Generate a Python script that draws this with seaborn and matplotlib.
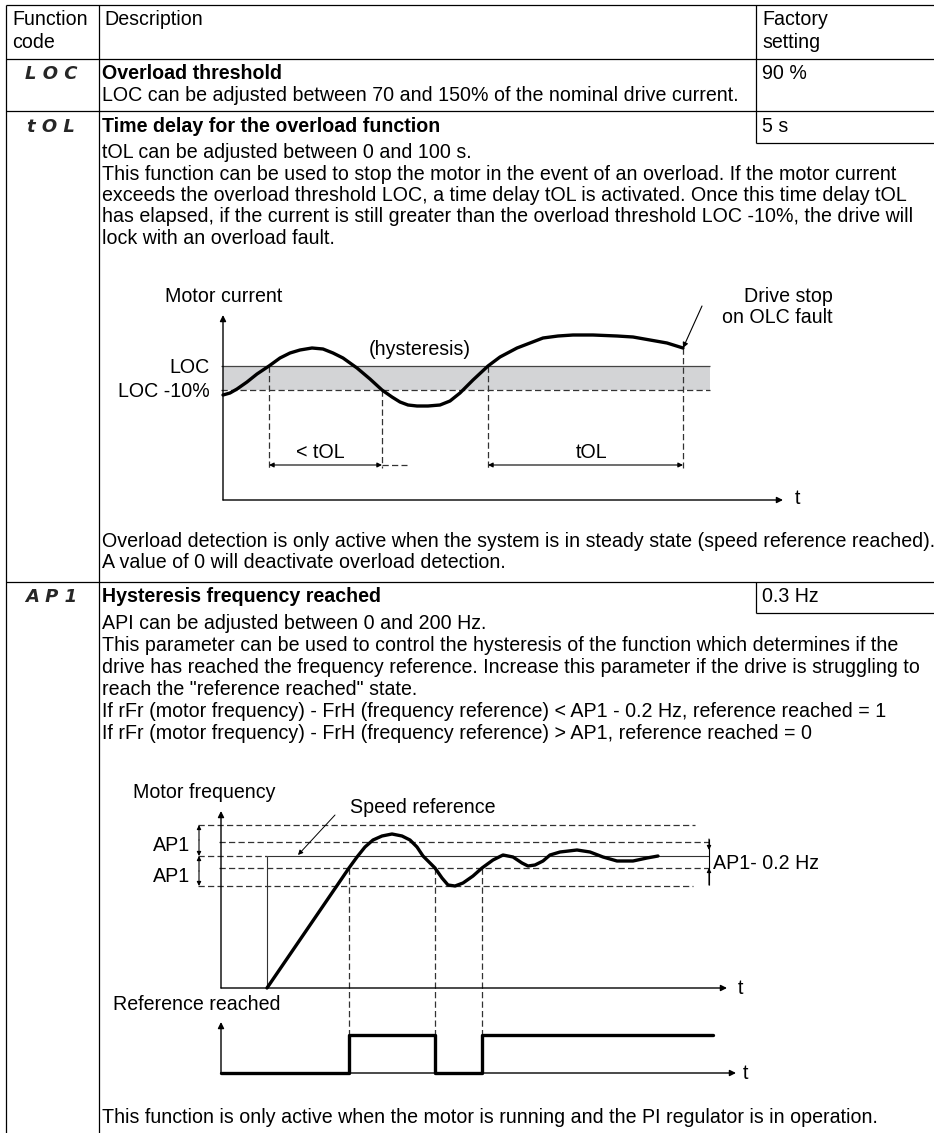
import numpy as np
import pandas as pd
import matplotlib.pyplot as plt
import seaborn as sns

W, H = 934, 1133

# ---- table content ----
header_left = ["Function", "code"]
header_mid = "Description"
header_right = ["Factory", "setting"]
codes = ["L O C", "t O L", "A P 1"]
titles = ["Overload threshold", "Time delay for the overload function", "Hysteresis frequency reached"]
factory = ["90 %", "5 s", "0.3 Hz"]
loc_lines = ["LOC can be adjusted between 70 and 150% of the nominal drive current."]
tol_lines = [
    "tOL can be adjusted between 0 and 100 s.",
    "This function can be used to stop the motor in the event of an overload. If the motor current",
    "exceeds the overload threshold LOC, a time delay tOL is activated. Once this time delay tOL",
    "has elapsed, if the current is still greater than the overload threshold LOC -10%, the drive will",
    "lock with an overload fault.",
]
note_lines = [
    "Overload detection is only active when the system is in steady state (speed reference reached).",
    "A value of 0 will deactivate overload detection.",
]
api_lines = [
    "API can be adjusted between 0 and 200 Hz.",
    "This parameter can be used to control the hysteresis of the function which determines if the",
    "drive has reached the frequency reference. Increase this parameter if the drive is struggling to",
    'reach the "reference reached" state.',
    "If rFr (motor frequency) - FrH (frequency reference) < AP1 - 0.2 Hz, reference reached = 1",
    "If rFr (motor frequency) - FrH (frequency reference) > AP1, reference reached = 0",
]
final_line = "This function is only active when the motor is running and the PI regulator is in operation."

# ---- overload diagram (pixel coordinates) ----
cur_x = [223, 230, 237, 247, 257, 269, 280, 290, 300, 312, 323, 333, 343, 357, 370, 382, 392, 400, 408,
         417, 428, 440, 450, 460, 473, 488, 500, 517, 530, 543, 558, 573, 593, 617, 633, 650, 667, 683]
cur_y = [395, 393, 389, 382, 374, 366, 358, 353, 350, 348, 349, 353, 358, 368, 379, 390, 397, 402, 405,
         406, 406, 405, 401, 393, 380, 366, 357, 348, 343, 338, 336, 335, 335, 336, 337, 340, 343, 348]
loc_level, loc10_level = 366, 390
cross_x = [269, 382, 488, 683]
cross_y = [366, 390, 366, 348]

# ---- frequency diagram ----
freq_x = [267, 349, 357, 365, 373, 382, 392, 402, 410, 417, 423, 430, 435, 442, 448, 455, 463, 473, 482,
          493, 503, 513, 522, 528, 535, 543, 550, 560, 577, 590, 603, 617, 633, 647, 658]
freq_y = [988, 868, 857, 847, 840, 836, 834, 836, 840, 847, 856, 863, 868, 878, 885, 886, 883, 876, 868,
          860, 855, 857, 863, 866, 865, 861, 855, 852, 850, 852, 857, 861, 861, 858, 856]
band_levels = [825, 842, 856, 868, 886]
reach_x = [349, 435, 482]

# ---- reference reached step ----
step_x = [221, 349, 349, 435, 435, 482, 482, 713]
step_y = [1073, 1073, 1035, 1035, 1073, 1073, 1035, 1035]

FS = 14.1
LW = 0.9
DASH = (0, (5, 2.6))

sns.set_theme(style="white")
plt.rcParams["font.family"] = ["Liberation Sans", "DejaVu Sans"]

fig = plt.figure(figsize=(W / 100, H / 100), dpi=100)
ax = fig.add_axes([0, 0, 1, 1])


def txt(x, y, s, **kw):
    # y is the visual centre of the capitals
    kw.setdefault("fontsize", FS)
    kw.setdefault("color", "black")
    ax.text(x, y + 7, s, va="baseline", **kw)


def arrow(x0, y0, x1, y1, style="-|>", lw=1.0, ms=9):
    ax.annotate("", xy=(x1, y1), xytext=(x0, y0),
                arrowprops=dict(arrowstyle=style, color="black", lw=lw, mutation_scale=ms,
                                shrinkA=0, shrinkB=0))


# ---- table frame ----
L, C1, C2, R, TOP = 6, 99, 756, 934, 5
ax.hlines([TOP, 59, 111, 582], L, R, color="black", lw=LW)
ax.vlines([L, C1], TOP, H, color="black", lw=LW)
ax.vlines(C2, TOP, 143, color="black", lw=LW)
ax.vlines(C2, 582, 613, color="black", lw=LW)
ax.hlines([143, 613], C2, R, color="black", lw=LW)

txt(12, 18, header_left[0]); txt(12, 41, header_left[1])
txt(104, 18, header_mid)
txt(762, 18, header_right[0]); txt(762, 41, header_right[1])

row_y = [72, 125, 595]
for code, title, fac, y in zip(codes, titles, factory, row_y):
    ax.text(51, y + 7, code, fontsize=13, fontweight="bold", fontstyle="italic",
            family="DejaVu Sans", ha="center", va="baseline")
    txt(102, y, title, fontweight="bold")
    txt(762, y, fac)

txt(102, 94, loc_lines[0])
for i, s in enumerate(tol_lines):
    txt(102, 151 + 21.5 * i, s)
for i, s in enumerate(note_lines):
    txt(102, 540 + 21.5 * i, s)
for i, s in enumerate(api_lines):
    txt(102, 622 + 22 * i, s)
txt(102, 1116, final_line)

# ---- overload diagram ----
ax.fill_between([223, 710], loc_level, loc10_level, color="#d3d4d6", lw=0, zorder=0)
ax.hlines(loc_level, 221, 710, color="#444444", lw=0.9)
ax.hlines(loc10_level, 221, 710, color="#333333", lw=0.9, linestyles=DASH)
ax.vlines(cross_x, cross_y, 468, color="#333333", lw=0.9, linestyles=DASH)
sns.lineplot(x=cur_x, y=cur_y, sort=False, estimator=None, color="black", lw=2.4, ax=ax)
arrow(223, 500, 223, 315)
arrow(223, 500, 783, 500)
txt(795, 497, "t")
txt(165, 295, "Motor current")
txt(833, 295, "Drive stop", ha="right")
txt(833, 316, "on OLC fault", ha="right")
arrow(702, 306, 683, 348, lw=0.8, ms=8)
txt(210, loc_level, "LOC", ha="right")
txt(210, loc10_level, "LOC -10%", ha="right")
txt(420, 348, "(hysteresis)", ha="center")
arrow(269, 465, 382, 465, style="<|-|>", lw=0.8, ms=7)
ax.hlines(465, 382, 407, color="#333333", lw=0.9, linestyles=DASH)
arrow(488, 465, 683, 465, style="<|-|>", lw=0.8, ms=7)
txt(320, 451, "< tOL", ha="center")
txt(592, 451, "tOL", ha="center")

# ---- frequency diagram ----
ax.hlines(band_levels[0], 198, 695, color="#333333", lw=0.9, linestyles=DASH)
ax.hlines(band_levels[1], 219, 709, color="#333333", lw=0.9, linestyles=DASH)
ax.hlines(band_levels[2], 198, 267, color="#333333", lw=0.9, linestyles=DASH)
ax.hlines(band_levels[2], 267, 709, color="#333333", lw=0.8)
ax.hlines(band_levels[3], 219, 709, color="#333333", lw=0.9, linestyles=DASH)
ax.hlines(band_levels[4], 198, 693, color="#333333", lw=0.9, linestyles=DASH)
ax.vlines(267, band_levels[2], 988, color="#333333", lw=0.8)
ax.vlines(reach_x, band_levels[3], 1035, color="#333333", lw=0.9, linestyles=DASH)
sns.lineplot(x=freq_x, y=freq_y, sort=False, estimator=None, color="black", lw=2.4, ax=ax)
arrow(221, 988, 221, 811)
arrow(221, 988, 727, 988)
txt(738, 987, "t")
txt(133, 791, "Motor frequency")
txt(350, 806, "Speed reference")
arrow(335, 815, 298, 855, lw=0.7, ms=7)
arrow(199, 840, 199, 825, lw=0.8, ms=6)
arrow(199, 840, 199, 856, lw=0.8, ms=6)
arrow(199, 871, 199, 856, lw=0.8, ms=6)
arrow(199, 871, 199, 886, lw=0.8, ms=6)
txt(190, 844, "AP1", ha="right")
txt(190, 875, "AP1", ha="right")
ax.vlines(709, 839, 885, color="black", lw=0.8)
arrow(709, 839, 709, 850, lw=0.8, ms=6)
arrow(709, 885, 709, 868, lw=0.8, ms=6)
txt(713, 862, "AP1- 0.2 Hz")

# ---- reference reached ----
txt(113, 1003, "Reference reached")
arrow(221, 1073, 221, 1022)
arrow(221, 1073, 736, 1073)
txt(743, 1072, "t")
sns.lineplot(x=step_x, y=step_y, sort=False, estimator=None, color="black", lw=2.4, ax=ax)

ax.set_xlim(0, W)
ax.set_ylim(H, 0)
ax.axis("off")

fig.savefig("out.png", dpi=100)
